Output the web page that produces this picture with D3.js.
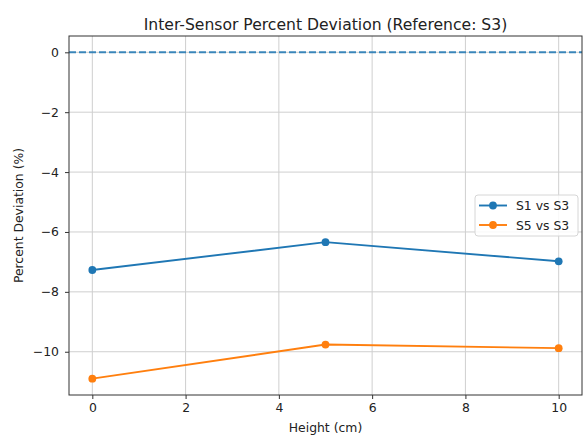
<!DOCTYPE html>
<html>
<head>
<meta charset="utf-8">
<script src="https://cdn.jsdelivr.net/npm/d3@7"></script>
<style>
  body { margin: 0; background: #fff; }
  text { font-family: "DejaVu Sans", sans-serif; fill: #222; }
</style>
</head>
<body>
<svg id="chart" width="584" height="435"></svg>
<script>
// DATA
const heights = [0, 5, 10];
const s1vsS3 = [-7.27, -6.34, -6.98];
const s5vsS3 = [-10.90, -9.76, -9.88];
const seriesNames = ['S1 vs S3', 'S5 vs S3'];
const xTicks = [0, 2, 4, 6, 8, 10];
const yTicks = [0, -2, -4, -6, -8, -10];
const refLine = 0;

const colors = ['#1f77b4', '#ff7f0e'];

const svg = d3.select('#chart');
const plotL = 69, plotR = 582, plotT = 36, plotB = 395;
const fs = 12.4;

// scales
let x = d3.scaleLinear().domain([-0.5, 10.5]).range([plotL, plotR]);
let y = d3.scaleLinear().domain([-11.445, 0.545]).range([plotB, plotT]);

// grid
let grid = svg.append('g').attr('class', 'grid');
grid.selectAll('line.gx')
  .data(xTicks)
  .enter().append('line')
  .attr('x1', d => x(d)).attr('x2', d => x(d))
  .attr('y1', plotT).attr('y2', plotB)
  .attr('stroke', '#cfcfcf').attr('stroke-width', 1);
grid.selectAll('line.gy')
  .data(yTicks)
  .enter().append('line')
  .attr('x1', plotL).attr('x2', plotR)
  .attr('y1', d => y(d)).attr('y2', d => y(d))
  .attr('stroke', '#cfcfcf').attr('stroke-width', 1);

// reference dashed line
svg.append('line')
  .attr('x1', plotL).attr('x2', plotR)
  .attr('y1', y(refLine)).attr('y2', y(refLine))
  .attr('stroke', colors[0])
  .attr('stroke-opacity', 0.85)
  .attr('stroke-width', 1.9)
  .attr('stroke-dasharray', '7,3');

// series
let series = [s1vsS3, s5vsS3];
let line = d3.line().x((d, i) => x(heights[i])).y(d => y(d));
series.forEach(function(vals, k) {
  let g = svg.append('g').attr('class', 'series');
  g.append('path')
    .attr('d', line(vals))
    .attr('fill', 'none')
    .attr('stroke', colors[k])
    .attr('stroke-width', 1.9);
  g.selectAll('circle')
    .data(vals)
    .enter().append('circle')
    .attr('cx', (d, i) => x(heights[i]))
    .attr('cy', d => y(d))
    .attr('r', 3.9)
    .attr('fill', colors[k]);
});

// axes
svg.append('g')
  .attr('transform', `translate(0,${plotB})`)
  .call(d3.axisBottom(x).tickValues(xTicks).tickSize(4).tickPadding(4).tickFormat(d3.format('d')))
  .call(g => g.select('.domain').remove())
  .call(g => g.selectAll('.tick line').attr('stroke', '#333'))
  .call(g => g.selectAll('.tick text')
    .attr('font-family', 'DejaVu Sans')
    .attr('font-size', fs)
    .attr('fill', '#222'));

svg.append('g')
  .attr('transform', `translate(${plotL},0)`)
  .call(d3.axisLeft(y).tickValues(yTicks).tickSize(4).tickPadding(6)
    .tickFormat(d => d < 0 ? '\u2212' + Math.abs(d) : d))
  .call(g => g.select('.domain').remove())
  .call(g => g.selectAll('.tick line').attr('stroke', '#333'))
  .call(g => g.selectAll('.tick text')
    .attr('font-family', 'DejaVu Sans')
    .attr('font-size', fs)
    .attr('fill', '#222'));

// frame
svg.append('rect')
  .attr('x', plotL).attr('y', plotT)
  .attr('width', plotR - plotL).attr('height', plotB - plotT)
  .attr('fill', 'none')
  .attr('stroke', '#333')
  .attr('stroke-width', 1);

// title and labels
svg.append('text')
  .attr('x', (plotL + plotR) / 2).attr('y', 29.5)
  .attr('text-anchor', 'middle')
  .attr('font-size', 15.6)
  .text('Inter-Sensor Percent Deviation (Reference: S3)');

svg.append('text')
  .attr('x', (plotL + plotR) / 2).attr('y', 431.5)
  .attr('text-anchor', 'middle')
  .attr('font-size', fs)
  .text('Height (cm)');

svg.append('text')
  .attr('transform', `translate(22.5,${(plotT + plotB) / 2}) rotate(-90)`)
  .attr('text-anchor', 'middle')
  .attr('font-size', fs)
  .text('Percent Deviation (%)');

// legend
let lg = svg.append('g').attr('class', 'legend').attr('transform', 'translate(475,195)');
lg.append('rect')
  .attr('width', 103).attr('height', 41)
  .attr('rx', 3).attr('ry', 3)
  .attr('fill', '#fff').attr('fill-opacity', 0.85)
  .attr('stroke', '#d6d6d6');
seriesNames.forEach(function(name, k) {
  let yy = 10.5 + k * 19.5;
  lg.append('line')
    .attr('x1', 4).attr('x2', 32)
    .attr('y1', yy).attr('y2', yy)
    .attr('stroke', colors[k]).attr('stroke-width', 1.9);
  lg.append('circle')
    .attr('cx', 18).attr('cy', yy).attr('r', 3.9)
    .attr('fill', colors[k]);
  lg.append('text')
    .attr('x', 41).attr('y', yy + 4.5)
    .attr('font-size', fs)
    .text(name);
});
</script>
</body>
</html>
